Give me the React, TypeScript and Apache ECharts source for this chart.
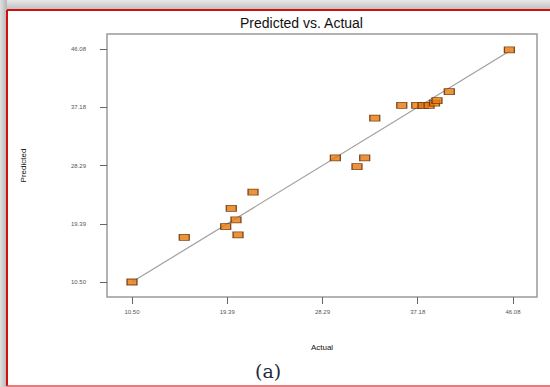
import React, { useEffect, useRef } from "react";
import * as echarts from "echarts";

const actual = [10.5, 15.38, 19.25, 20.21, 20.4, 19.77, 21.8, 29.49, 31.51, 32.23, 33.17, 35.69, 37.09, 37.68, 38.24, 38.75, 38.98, 40.13, 45.74];
const predicted = [10.5, 17.33, 18.95, 19.97, 17.68, 21.75, 24.24, 29.44, 28.11, 29.44, 35.54, 37.48, 37.48, 37.45, 37.48, 37.83, 38.18, 39.56, 45.93];
const tickValues = [10.5, 19.39, 28.29, 37.18, 46.08];
const fitLine = [[10.5, 10.5], [45.8, 45.8]];

export default function App() {
  const ref = useRef<HTMLDivElement>(null);
  useEffect(() => {
    if (!ref.current) return;
    const chart = echarts.init(ref.current, null, { renderer: "svg" });
    const points = actual.map((a, i) => [a, predicted[i]]);
    const axisCommon = {
      type: "value",
      axisLine: { show: false },
      splitLine: { show: false },
      axisTick: { show: true, length: 7, customValues: tickValues, lineStyle: { color: "#666", width: 1 } },
      axisLabel: {
        customValues: tickValues,
        formatter: (v: number) => v.toFixed(2),
        fontSize: 6,
        color: "#555",
        fontFamily: "Arial, Liberation Sans, sans-serif",
      },
      nameLocation: "middle",
      nameTextStyle: { fontSize: 8, color: "#111", fontFamily: "Arial, Liberation Sans, sans-serif" },
    };
    const red = { stroke: "#d01010", lineWidth: 2 };
    chart.setOption({
      animation: false,
      backgroundColor: "#ffffff",
      graphic: [
        {
          type: "rect",
          z: -10,
          shape: { x: 0, y: 0, width: 550, height: 10 },
          style: {
            fill: new echarts.graphic.LinearGradient(0, 0, 0, 1, [
              { offset: 0, color: "#e8e8e8" },
              { offset: 1, color: "#bdbdbd" },
            ]),
          },
          silent: true,
        },
        {
          type: "rect",
          z: -10,
          shape: { x: 0, y: 0, width: 7, height: 387 },
          style: {
            fill: new echarts.graphic.LinearGradient(0, 0, 1, 0, [
              { offset: 0, color: "#e0e0e0" },
              { offset: 1, color: "#b5b5b5" },
            ]),
          },
          silent: true,
        },
        { type: "line", z: -9, shape: { x1: 7, y1: 10, x2: 550, y2: 10 }, style: red, silent: true },
        { type: "line", z: -9, shape: { x1: 7, y1: 10, x2: 7, y2: 386 }, style: red, silent: true },
        { type: "line", z: -9, shape: { x1: 7, y1: 386, x2: 550, y2: 386 }, style: { stroke: "#e05050", lineWidth: 1.5 }, silent: true },
        {
          type: "text",
          left: 240,
          top: 16,
          style: { text: "Predicted vs. Actual", fontSize: 14, fill: "#111", fontFamily: "Arial, Liberation Sans, sans-serif" },
        },
        {
          type: "text",
          left: 255,
          top: 361,
          style: { text: "(a)", fontSize: 19, fill: "#1f2a3a", fontFamily: "DejaVu Serif, Liberation Serif, serif" },
        },
      ],
      grid: {
        left: 107,
        top: 34,
        right: 13,
        bottom: 90,
        show: true,
        borderColor: "#9a9a9a",
        borderWidth: 1.5,
        backgroundColor: "#ffffff",
      },
      xAxis: {
        ...axisCommon,
        min: 8.165,
        max: 48.32,
        name: "Actual",
        nameGap: 46,
        axisLabel: { ...axisCommon.axisLabel, margin: 12 },
      },
      yAxis: {
        ...axisCommon,
        min: 8.21,
        max: 48.37,
        name: "Predicted",
        nameGap: 80,
        axisLabel: { ...axisCommon.axisLabel, margin: 21 },
      },
      series: [
        {
          type: "line",
          data: fitLine,
          symbol: "none",
          lineStyle: { color: "#a0a0a0", width: 1.2 },
          z: 1,
        },
        {
          type: "scatter",
          data: points,
          symbol: "rect",
          symbolSize: [10, 6],
          itemStyle: { color: "#e8780a", borderColor: "#5a2800", borderWidth: 1 },
          z: 2,
        },
      ],
    });
    return () => chart.dispose();
  }, []);
  return <div ref={ref} style={{ position: "fixed", left: 0, top: 0, width: 550, height: 387 }} />;
}
